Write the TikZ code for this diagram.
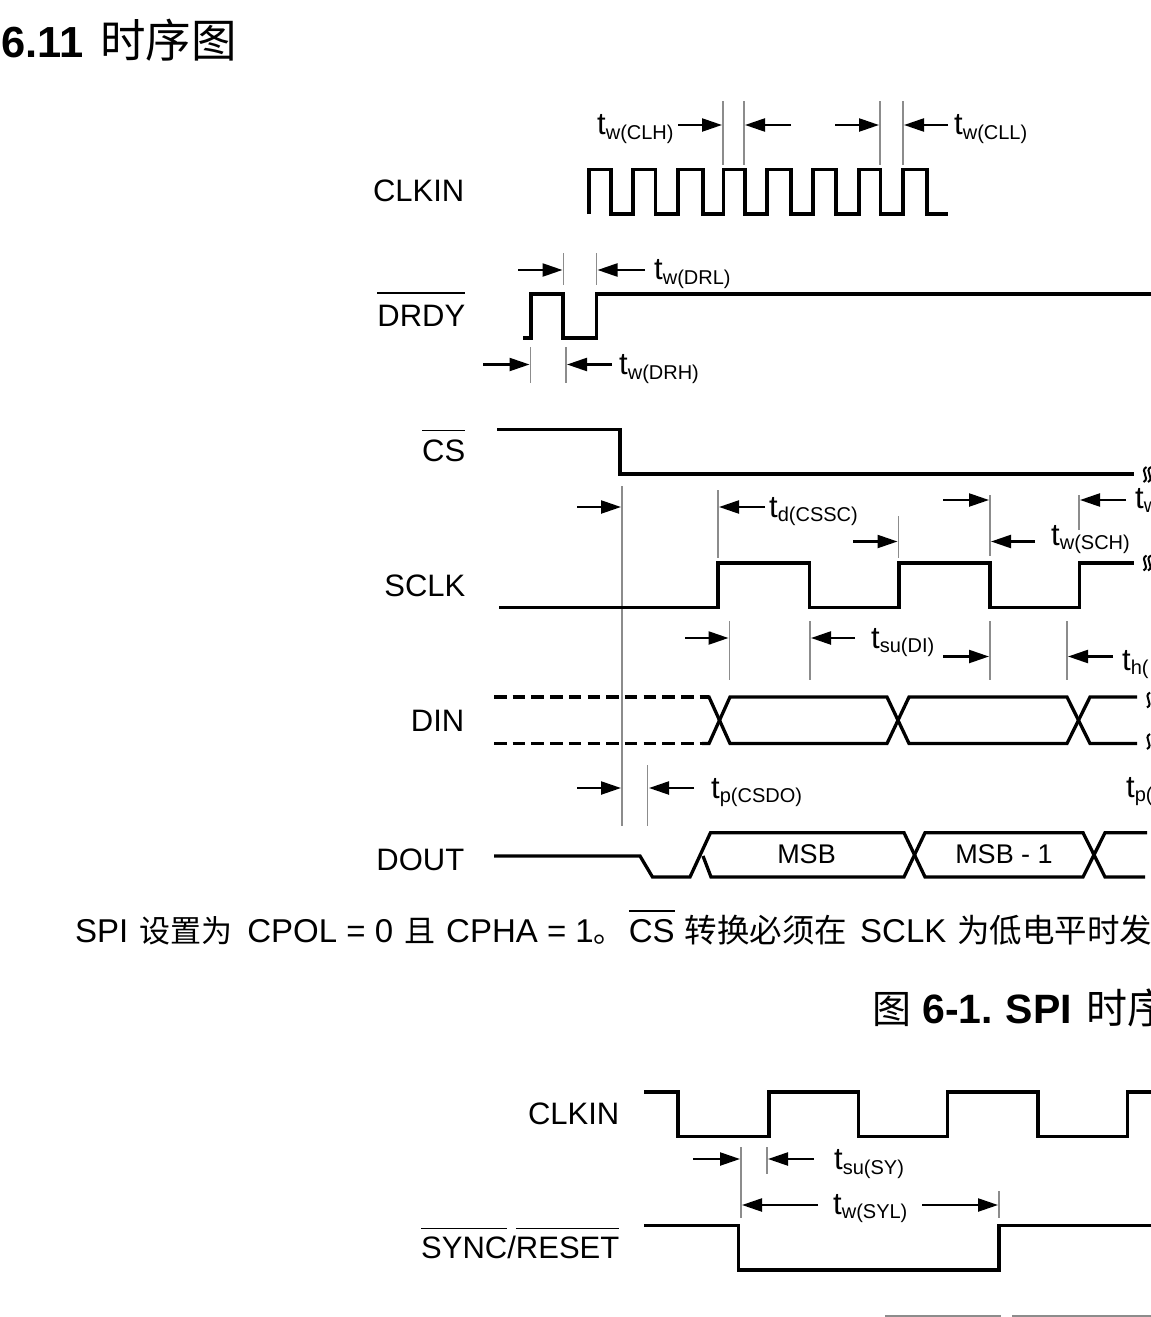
\documentclass[tikz,border=0pt]{standalone}
\usepackage{fontspec}
\setmainfont{Liberation Sans}
\newfontfamily\cjkf{Noto Sans CJK SC}
\usetikzlibrary{arrows.meta}
\newcommand{\tsub}[2]{\fontsize{31}{31}\selectfont #1\raisebox{-4.5pt}{\fontsize{20}{20}\selectfont #2}}
\newcommand{\ovl}[2]{\leavevmode\vbox{\hrule height 1.6pt\kern #1pt\hbox{#2}}}
\tikzset{
  wave/.style={line width=3.3pt,line join=miter,line cap=butt,black},
  guide/.style={line width=1.3pt,draw=black!45},
  dim/.style={line width=2.3pt,black,-{Triangle[length=20pt,width=13pt]},shorten >=0pt},
  sig/.style={anchor=base east,inner sep=0pt,font=\fontsize{31}{31}\selectfont},
  tlabel/.style={anchor=base west,inner sep=0pt},
  boxlabel/.style={anchor=base,inner sep=0pt,font=\fontsize{27}{27}\selectfont},
  brk/.style={line width=2pt,black},
  wavedash/.style={wave,dash pattern=on 12.5pt off 6.2pt}
}
\newcommand{\squig}[2]{\draw[brk] (#1+1.5,#2-7.5) .. controls (#1-6,#2-3.5) and (#1+6,#2+3.5) .. (#1-1.5,#2+7.5);}
\begin{document}
\begin{tikzpicture}[x=1pt,y=-1pt]
\useasboundingbox (0,0) rectangle (1151,1317);
\clip (0,0) rectangle (1151,1317);
% heading
\node[anchor=base west,inner sep=0pt] (heading) at (1,57) {\fontsize{43.5}{43.5}\selectfont\textbf{6.11}\hspace{17pt}{\cjkf\fontsize{45.5}{45.5}\selectfont 时序图}};
% signal labels
\node[sig] (lclkin) at (464.5,201) {CLKIN};
\node[sig] (ldrdy) at (465.5,326) {\ovl{11}{DRDY}};
\node[sig] (lcs) at (465.5,461) {\ovl{8}{CS}};
\node[sig] (lsclk) at (465.5,596) {SCLK};
\node[sig] (ldin) at (464.5,731) {DIN};
\node[sig] (ldout) at (464.5,870) {DOUT};
% CLKIN
\draw[wave] (589,214) -- (589,169.3) -- (611,169.3) -- (611,214) -- (633,214) -- (633,169.3) -- (655.5,169.3) -- (655.5,214) -- (678,214) -- (678,169.3) -- (703,169.3) -- (703,214) -- (723.5,214) -- (723.5,169.3) -- (745,169.3) -- (745,214) -- (767,214) -- (767,169.3) -- (791,169.3) -- (791,214) -- (813,214) -- (813,169.3) -- (836,169.3) -- (836,214) -- (859,214) -- (859,169.3) -- (880.5,169.3) -- (880.5,214) -- (903,214) -- (903,169.3) -- (927,169.3) -- (927,214) -- (948,214);
\foreach \x in {723,744,880,903} \draw[guide] (\x,101) -- (\x,165);
\draw[dim] (678,125) -- (722,125);
\draw[dim] (791,125) -- (745,125);
\draw[dim] (835,125) -- (879,125);
\draw[dim] (948,125) -- (904,125);
\node[tlabel] (tclh) at (597,134.5) {\tsub{t}{w(CLH)}};
\node[tlabel] (tcll) at (954,134.5) {\tsub{t}{w(CLL)}};
% DRDY
\draw[wave] (523,338) -- (531,338) -- (531,294) -- (563,294) -- (563,338) -- (596.5,338) -- (596.5,294) -- (1151,294);
\foreach \x in {563.5,596.5} \draw[guide] (\x,253) -- (\x,285);
\foreach \x in {530.5,566} \draw[guide] (\x,347) -- (\x,383);
\draw[dim] (518,270) -- (562.5,270);
\draw[dim] (645,270) -- (597.5,270);
\draw[dim] (483,364.5) -- (529.5,364.5);
\draw[dim] (612,364.5) -- (567,364.5);
\node[tlabel] (tdrl) at (654,279.5) {\tsub{t}{w(DRL)}};
\node[tlabel] (tdrh) at (619,374.5) {\tsub{t}{w(DRH)}};
% CS
\draw[wave] (497,429.5) -- (620,429.5) -- (620,474) -- (1134,474);
\squig{1145}{474.5}\squig{1149.5}{474.5}
% long guide
\draw[guide] (622,486) -- (622,826);
\draw[dim] (577,507) -- (621,507);
% SCLK
\draw[wave] (499,607.5) -- (718,607.5) -- (718,563) -- (809.5,563) -- (809.5,607.5) -- (899,607.5) -- (899,563) -- (990,563) -- (990,607.5) -- (1079.5,607.5) -- (1079.5,563) -- (1134,563);
\squig{1145}{563}\squig{1149.5}{563}
\draw[guide] (718,490) -- (718,558);
\draw[guide] (898.5,516) -- (898.5,558);
\draw[guide] (990,495) -- (990,556);
\draw[guide] (1079,495) -- (1079,530);
\draw[dim] (765,507) -- (719,507);
\draw[dim] (853,541.5) -- (897.5,541.5);
\draw[dim] (943,500) -- (989,500);
\draw[dim] (1035,541.5) -- (991,541.5);
\draw[dim] (1126,500) -- (1080,500);
\node[tlabel] (tcssc) at (769,517) {\tsub{t}{d(CSSC)}};
\node[tlabel] (tsch) at (1051,545) {\tsub{t}{w(SCH)}};
\node[tlabel] (tscl) at (1135,508) {\tsub{t}{w}};
% DIN guides
\foreach \x in {729.5,810,990,1067} \draw[guide] (\x,621) -- (\x,680);
\draw[dim] (685,638) -- (728.5,638);
\draw[dim] (855,638) -- (811,638);
\draw[dim] (943,656.5) -- (989,656.5);
\draw[dim] (1113,656.5) -- (1068,656.5);
\node[tlabel] (tsu) at (871,648) {\tsub{t}{su(DI)}};
\node[tlabel] (thd) at (1122,670) {\tsub{t}{h(}};
% DIN
\draw[wavedash] (494,697) -- (709,697);
\draw[wavedash] (494,743.5) -- (709,743.5);
\draw[wave] (702,697) -- (709,697) -- (730,743.5) -- (887,743.5) -- (909,697) -- (1067,697) -- (1090,743.5) -- (1137,743.5);
\draw[wave] (702,743.5) -- (709,743.5) -- (730,697) -- (887,697) -- (909,743.5) -- (1067,743.5) -- (1090,697) -- (1137,697);
\squig{1148.5}{700}\squig{1148.5}{741.5}
% DOUT guides
\draw[guide] (647.5,765) -- (647.5,826);
\draw[dim] (577,788) -- (621,788);
\draw[dim] (694,788) -- (649,788);
\node[tlabel] (tcsdo) at (711,798) {\tsub{t}{p(CSDO)}};
\node[tlabel] (tpx) at (1126,797) {\tsub{t}{p(}};
% DOUT
\draw[wave] (494,856) -- (640,856) -- (652.5,877) -- (690,877) -- (710.5,832.7) -- (904,832.7) -- (925,877) -- (1083,877) -- (1105,832.7) -- (1147,832.7);
\draw[wave] (703,856) -- (711,877) -- (904,877) -- (925,832.7) -- (1083,832.7) -- (1105,877) -- (1145,877);
\node[boxlabel] (lmsb) at (806.5,863) {MSB};
\node[boxlabel] (lmsb1) at (1004,863) {MSB - 1};
% footer
\node[anchor=base west,inner sep=0pt] (foot) at (75,942) {\fontsize{33}{33}\selectfont SPI\hspace{11pt}{\cjkf\fontsize{31}{31}\selectfont 设置为}\hspace{15pt}CPOL = 0\hspace{11pt}{\cjkf\fontsize{31}{31}\selectfont 且}\hspace{11pt}CPHA = 1{\cjkf\fontsize{31}{31}\selectfont 。}\hspace{4pt}\ovl{7}{CS}\hspace{10pt}{\cjkf\fontsize{32.5}{32.5}\selectfont 转换必须在}\hspace{13pt}SCLK\hspace{11pt}{\cjkf\fontsize{32.5}{32.5}\selectfont 为低电平时发}};
\node[anchor=base west,inner sep=0pt] (cap) at (872,1023) {{\cjkf\fontsize{39}{39}\selectfont 图}\hspace{11pt}\fontsize{41}{41}\selectfont\textbf{6-1.\hspace{13pt}SPI}\hspace{15pt}{\cjkf\fontsize{41}{41}\selectfont 时序}};
% lower CLKIN
\node[sig] (lclk2) at (619.5,1124) {CLKIN};
\node[sig] (lsync) at (619.5,1258) {\ovl{7}{SYNC}/\ovl{7}{RESET}};
\draw[wave] (644,1092) -- (678,1092) -- (678,1136.3) -- (769,1136.3) -- (769,1092) -- (858.5,1092) -- (858.5,1136.3) -- (947.5,1136.3) -- (947.5,1092) -- (1038,1092) -- (1038,1136.3) -- (1127.5,1136.3) -- (1127.5,1092) -- (1151,1092);
\draw[guide] (741,1147) -- (741,1218);
\draw[guide] (767,1147) -- (767,1174);
\draw[guide] (999,1191) -- (999,1218);
\draw[dim] (693,1159) -- (740,1159);
\draw[dim] (814,1159) -- (768,1159);
\draw[dim] (818,1205) -- (742,1205);
\draw[dim] (922,1205) -- (998,1205);
\node[tlabel] (tsy) at (834,1169.5) {\tsub{t}{su(SY)}};
\node[tlabel] (tsyl) at (833,1214) {\tsub{t}{w(SYL)}};
\draw[wave] (644,1225.5) -- (738.5,1225.5) -- (738.5,1270) -- (999,1270) -- (999,1225.5) -- (1151,1225.5);
\draw[guide] (885,1316) -- (1001,1316);
\draw[guide] (1012,1316) -- (1151,1316);
\end{tikzpicture}
\end{document}
